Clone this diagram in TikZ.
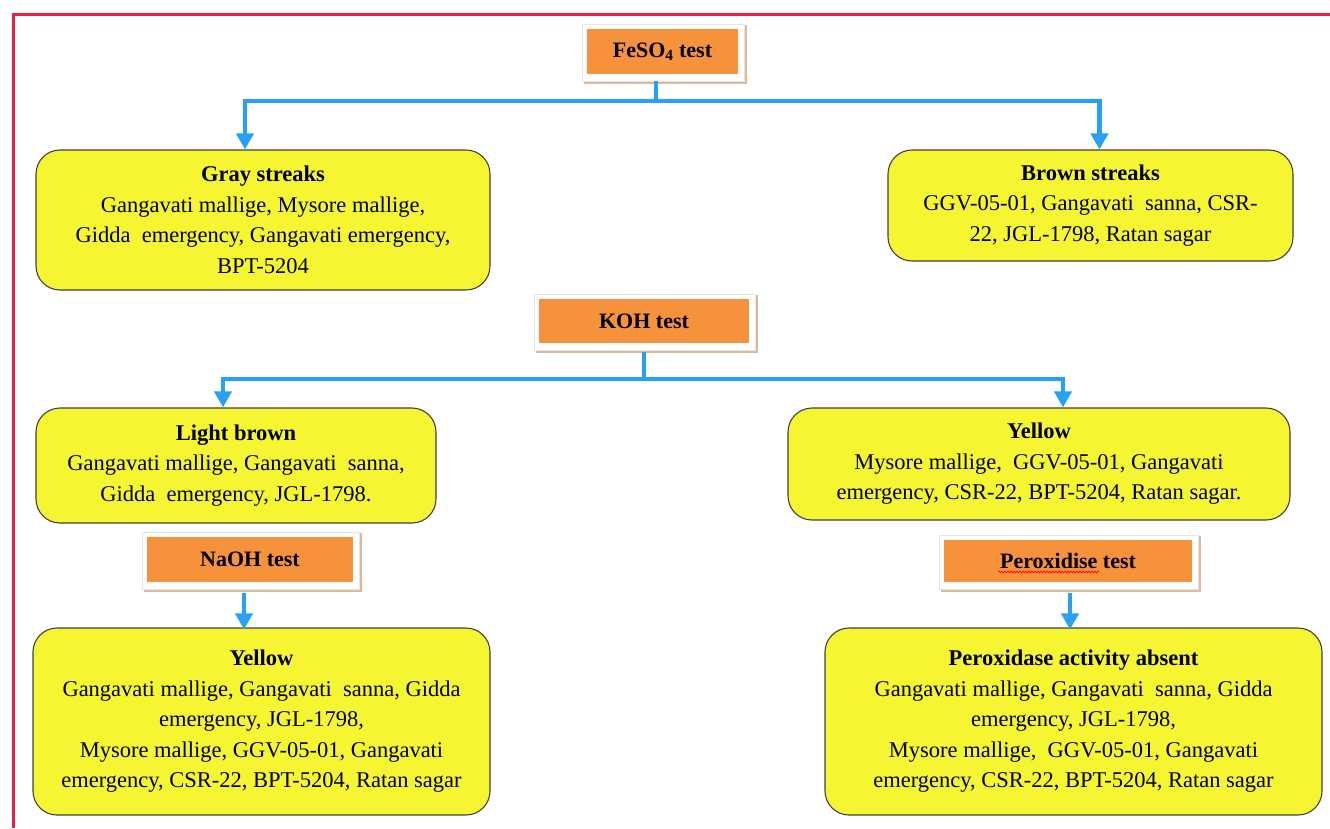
\documentclass[tikz,border=0pt]{standalone}
\usepackage{fontspec}
\setmainfont{Liberation Serif}
\usetikzlibrary{arrows.meta,backgrounds,decorations.pathmorphing}
\definecolor{frame}{RGB}{235,30,70}
\definecolor{conn}{RGB}{40,160,245}
\definecolor{boxy}{RGB}{245,245,50}
\definecolor{lblorange}{RGB}{247,146,60}
\definecolor{shadowtan}{RGB}{222,185,155}
\tikzset{
  result/.style={draw=black!75, line width=1.1pt, fill=boxy, rounded corners=24pt,
    inner sep=0pt, align=center, font=\fontsize{22.5}{30.5}\selectfont},
  testlbl/.style={fill=lblorange, inner sep=0pt, font=\bfseries\fontsize{22}{24}\selectfont},
  link/.style={draw=conn, line width=4.5pt},
  arrowlink/.style={draw=conn, line width=4.5pt, -{Triangle[length=16pt,width=17pt]}},
}
\newcommand{\lblframe}[1]{%
  \fill[shadowtan] ([shift={(-3pt,-10pt)}]#1.south west) rectangle ([shift={(9pt,4pt)}]#1.north east);
  \filldraw[fill=white, draw=black!10, line width=0.6pt] ([shift={(-5pt,-7pt)}]#1.south west) rectangle ([shift={(6pt,5pt)}]#1.north east);
}
\begin{document}
\begin{tikzpicture}[x=1pt,y=-1pt]
\useasboundingbox (0,0) rectangle (1330,828);
% red frame
\draw[frame, line width=3pt] (13,828) -- (13,14) -- (1330,14);

% label boxes
\node[testlbl, minimum width=151pt, minimum height=45pt] (fe) at (662.5,51.5) {FeSO\textsubscript{4} test};
\node[testlbl, minimum width=210pt, minimum height=44pt] (koh) at (644,321) {KOH test};
\node[testlbl, minimum width=206pt, minimum height=45pt] (naoh) at (250,559.5) {NaOH test};
\node[testlbl, minimum width=248pt, minimum height=42pt] (perox) at (1068,561) {Peroxidise test};
\begin{scope}[on background layer]
  \lblframe{fe}
  \lblframe{koh}
  \lblframe{naoh}
  \lblframe{perox}
\end{scope}
% spell-check underline
\coordinate (wl) at (998,572);
\coordinate (wr) at (1099,572);
\draw[red, line width=0.6pt, decorate, decoration={snake, amplitude=1pt, segment length=3pt}] (wl) -- (wr);

% result boxes
\node[result, minimum width=454pt, minimum height=140pt] (gray) at (263,220)
  {\textbf{Gray streaks}\\Gangavati mallige, Mysore mallige,\\Gidda\ \ emergency, Gangavati emergency,\\BPT-5204};
\node[result, minimum width=405pt, minimum height=111pt] (brown) at (1090.5,205.5)
  {\textbf{Brown streaks}\\GGV-05-01, Gangavati\ \ sanna, CSR-\\22, JGL-1798, Ratan sagar};
\node[result, minimum width=400pt, minimum height=115pt] (lbrown) at (236,465.5)
  {\textbf{Light brown}\\Gangavati mallige, Gangavati\ \ sanna,\\Gidda\ \ emergency, JGL-1798.};
\node[result, minimum width=502pt, minimum height=112pt] (yel) at (1039,464)
  {\textbf{Yellow}\\Mysore mallige,\ \ GGV-05-01, Gangavati\\emergency, CSR-22, BPT-5204, Ratan sagar.};
\node[result, minimum width=457pt, minimum height=187pt] (yel2) at (261.5,721.5)
  {\textbf{Yellow}\\Gangavati mallige, Gangavati\ \ sanna, Gidda\\emergency, JGL-1798,\\Mysore mallige, GGV-05-01, Gangavati\\emergency, CSR-22, BPT-5204, Ratan sagar};
\node[result, minimum width=497pt, minimum height=187pt] (pxa) at (1073.5,721.5)
  {\textbf{Peroxidase activity absent}\\Gangavati mallige, Gangavati\ \ sanna, Gidda\\emergency, JGL-1798,\\Mysore mallige,\ \ GGV-05-01, Gangavati\\emergency, CSR-22, BPT-5204, Ratan sagar};

% connectors
\coordinate (j1) at (656,101);
\coordinate (j2) at (644,379);
\draw[link] ([xshift=-6.5pt,yshift=-7pt]fe.south) -- (j1);
\draw[arrowlink] (j1) -| ([xshift=-18pt]gray.north);
\draw[arrowlink] (j1) -| ([xshift=9pt]brown.north);
\draw[link] ([yshift=-9pt]koh.south) -- (j2);
\draw[arrowlink] (j2) -| ([xshift=-13pt]lbrown.north);
\draw[arrowlink] (j2) -| ([xshift=24pt]yel.north);
\draw[arrowlink] ([xshift=-6pt,yshift=-11pt]naoh.south) -- ([xshift=-17.5pt,yshift=-2pt]yel2.north);
\draw[arrowlink] ([xshift=2pt,yshift=-11pt]perox.south) -- ([xshift=-3.5pt,yshift=-2pt]pxa.north);
\end{tikzpicture}
\end{document}
